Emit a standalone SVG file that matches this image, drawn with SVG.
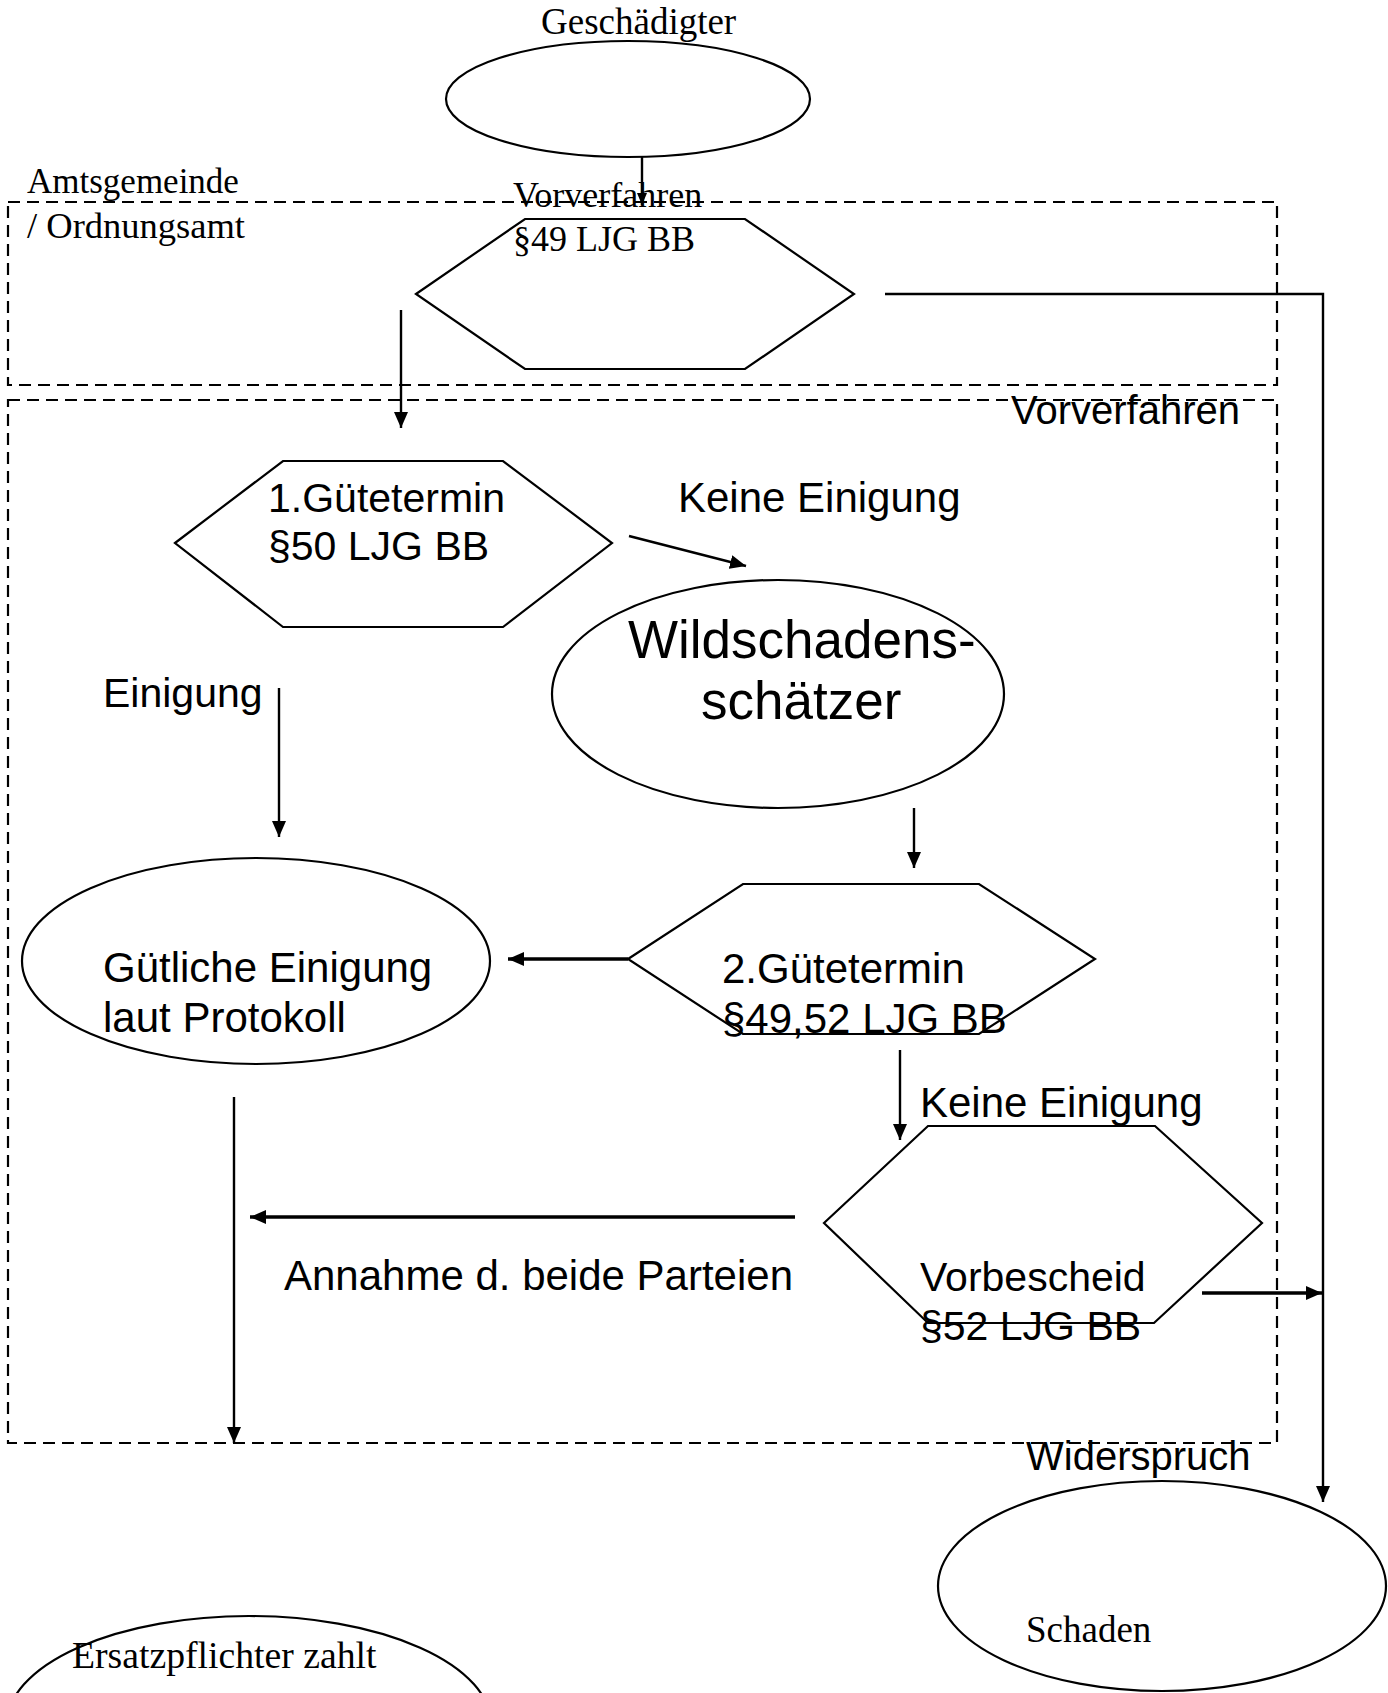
<svg xmlns="http://www.w3.org/2000/svg" width="1388" height="1693" viewBox="0 0 1388 1693">
<style>
.shape{fill:none;stroke:#000;stroke-width:2.2}
.frame{fill:none;stroke:#000;stroke-width:2.2;stroke-dasharray:12 7}
.serif{font-family:"Liberation Serif","Times New Roman",serif;font-size:37px;fill:#000}
.sans{font-family:"Liberation Sans",Arial,sans-serif;font-size:42px;fill:#000}
.conn{fill:none;stroke:#000;stroke-width:2.4}
.thick{stroke-width:3.5}
</style>
<defs>
<marker id="ah" markerUnits="userSpaceOnUse" markerWidth="16" markerHeight="14" refX="16" refY="7" orient="auto">
<path d="M0,0 L16,7 L0,14 z" fill="#000"/>
</marker>
<marker id="ahs" markerUnits="userSpaceOnUse" markerWidth="12" markerHeight="10" refX="12" refY="5" orient="auto">
<path d="M0,0 L12,5 L0,10 z" fill="#000"/>
</marker>
</defs>
<rect width="1388" height="1693" fill="#fff"/>

<g id="frame-amt">
<rect class="frame" x="8" y="202" width="1269" height="183"/>
<text class="serif" x="27" y="193" style="font-size:35px">Amtsgemeinde</text>
<text class="serif" x="27" y="238" style="font-size:36.5px">/ Ordnungsamt</text>
</g>
<g id="frame-vorverfahren">
<rect class="frame" x="8" y="400" width="1269" height="1043"/>
<text class="sans" x="1011" y="424" style="font-size:40px">Vorverfahren</text>
</g>

<g id="node-geschaedigter">
<ellipse class="shape" cx="628" cy="99" rx="182" ry="58"/>
<text class="serif" x="541" y="34">Geschädigter</text>
</g>

<g id="node-vorverfahren49">
<polygon class="shape" points="416,294 525,219 745,219 854,294 745,369 525,369"/>
<text class="serif" x="513" y="207" style="font-size:36px">Vorverfahren</text>
<text class="serif" x="513" y="251" style="font-size:36px">§49 LJG BB</text>
</g>

<g id="node-guetetermin1">
<polygon class="shape" points="175,543 283,461 503,461 612,543 503,627 283,627"/>
<text class="sans" x="268" y="512" style="font-size:41px">1.Gütetermin</text>
<text class="sans" x="268" y="560" style="font-size:41px">§50 LJG BB</text>
</g>

<g id="node-wildschadensschaetzer">
<ellipse class="shape" cx="778" cy="694" rx="226" ry="114"/>
<text class="sans" x="628" y="658" style="font-size:53px">Wildschadens-</text>
<text class="sans" x="701" y="719" style="font-size:53px">schätzer</text>
</g>

<g id="node-guetliche">
<ellipse class="shape" cx="256" cy="961" rx="234" ry="103"/>
<text class="sans" x="103" y="982">Gütliche Einigung</text>
<text class="sans" x="103" y="1032">laut Protokoll</text>
</g>

<g id="node-guetetermin2">
<polygon class="shape" points="628,959 743,884 979,884 1095,959 979,1034 743,1034"/>
<text class="sans" x="722" y="983">2.Gütetermin</text>
<text class="sans" x="722" y="1033">§49,52 LJG BB</text>
</g>

<g id="node-vorbescheid">
<polygon class="shape" points="824,1223 928,1126 1155,1126 1262,1223 1154,1323 928,1323"/>
<text class="sans" x="920" y="1291" style="font-size:41px">Vorbescheid</text>
<text class="sans" x="920" y="1340" style="font-size:41px">§52 LJG BB</text>
</g>

<g id="node-schaden">
<ellipse class="shape" cx="1162" cy="1586" rx="224" ry="105"/>
<text class="serif" x="1026" y="1642">Schaden</text>
</g>

<g id="node-ersatzpflichter">
<ellipse class="shape" cx="249" cy="1724" rx="242" ry="108"/>
<text class="serif" x="72" y="1668" style="font-size:37.7px">Ersatzpflichter zahlt</text>
</g>

<g id="connectors">
<line class="conn" x1="642" y1="157" x2="642" y2="205" marker-end="url(#ahs)"/>
<polyline class="conn" points="885,294 1323,294 1323,1502" marker-end="url(#ah)"/>
<line class="conn" x1="401" y1="310" x2="401" y2="428" marker-end="url(#ah)"/>
<line class="conn" x1="629" y1="536" x2="746" y2="566" marker-end="url(#ah)"/>
<line class="conn" x1="279" y1="688" x2="279" y2="837" marker-end="url(#ah)"/>
<line class="conn" x1="914" y1="808" x2="914" y2="868" marker-end="url(#ah)"/>
<line class="conn thick" x1="628" y1="959" x2="508" y2="959" marker-end="url(#ah)"/>
<line class="conn" x1="900" y1="1050" x2="900" y2="1140" marker-end="url(#ah)"/>
<line class="conn thick" x1="795" y1="1217" x2="250" y2="1217" marker-end="url(#ah)"/>
<line class="conn thick" x1="1202" y1="1293" x2="1322" y2="1293" marker-end="url(#ah)"/>
<line class="conn" x1="234" y1="1097" x2="234" y2="1443" marker-end="url(#ah)"/>
</g>

<g id="labels">
<text class="sans" x="678" y="512">Keine Einigung</text>
<text class="sans" x="103" y="707" style="font-size:41px">Einigung</text>
<text class="sans" x="920" y="1117">Keine Einigung</text>
<text class="sans" x="284" y="1290">Annahme d. beide Parteien</text>
<text class="sans" x="1026" y="1470" style="font-size:40px">Widerspruch</text>
</g>
</svg>
